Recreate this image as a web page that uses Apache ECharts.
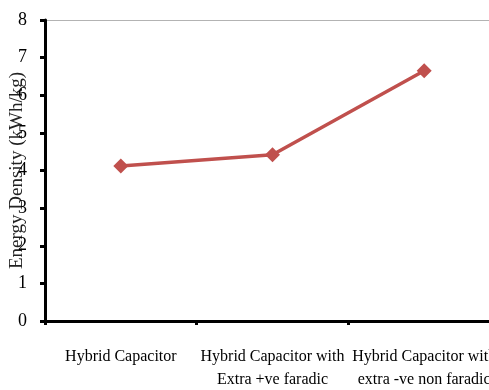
<!DOCTYPE html>
<html>
<head>
<meta charset="utf-8">
<script src="https://cdn.jsdelivr.net/npm/echarts@6/dist/echarts.min.js"></script>
<style>
  html, body { margin: 0; padding: 0; background: #fff; }
  #chart { width: 489px; height: 390px; }
</style>
</head>
<body>
<div id="chart"></div>
<script>
// Energy density of the three capacitor configurations
const categories = [
  'Hybrid Capacitor',
  'Hybrid Capacitor with\nExtra +ve faradic',
  'Hybrid Capacitor with\nextra -ve non faradic'
];
const energyDensity = [4.12, 4.42, 6.65];
const yTicks = [0, 1, 2, 3, 4, 5, 6, 7, 8];

const serif = '"Liberation Serif", "DejaVu Serif", serif';

// only the top gridline (at the axis max) is drawn
const splitColors = yTicks.map((v, i) => i === yTicks.length - 1 ? '#b3b3b3' : 'rgba(0,0,0,0)');

const chart = echarts.init(document.getElementById('chart'));
chart.setOption({
  animation: false,
  grid: {
    left: 45, top: 20, width: 455, bottom: 69,
    containLabel: false, outerBoundsMode: 'none'
  },
  xAxis: {
    type: 'category',
    data: categories,
    boundaryGap: true,
    axisLine: { lineStyle: { color: '#000', width: 3 } },
    axisTick: { show: true, length: 4, lineStyle: { color: '#000', width: 3 } },
    axisLabel: {
      color: '#000', fontFamily: serif, fontSize: 16,
      margin: 24, lineHeight: 23, interval: 0
    },
    splitLine: { show: false }
  },
  yAxis: {
    type: 'value',
    min: yTicks[0],
    max: yTicks[yTicks.length - 1],
    interval: 1,
    name: 'Energy Density (kWh/kg)',
    nameLocation: 'middle',
    nameGap: 18,
    nameRotate: 90,
    nameMoveOverlap: false,
    nameTextStyle: { color: '#222', fontFamily: serif, fontSize: 19 },
    axisLine: { show: true, lineStyle: { color: '#000', width: 3 } },
    axisTick: { show: true, length: 5, lineStyle: { color: '#000', width: 3 } },
    axisLabel: { color: '#000', fontFamily: serif, fontSize: 18, margin: 18 },
    splitLine: { show: true, lineStyle: { color: splitColors, width: 1 } }
  },
  series: [{
    type: 'line',
    data: energyDensity,
    symbol: 'diamond',
    symbolSize: 15,
    lineStyle: { color: '#C0504D', width: 3.5 },
    itemStyle: { color: '#C0504D' }
  }]
});
</script>
</body>
</html>
